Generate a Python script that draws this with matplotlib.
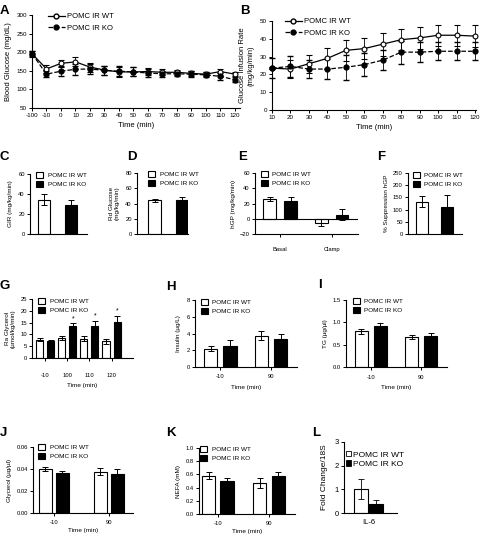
import matplotlib
matplotlib.use('Agg')
import matplotlib.pyplot as plt
import numpy as np
from matplotlib.patches import Patch
from matplotlib.lines import Line2D

plt.rcParams['font.family'] = ['Liberation Sans', 'DejaVu Sans']

# ---- data ----
# A: blood glucose
a_time = ['-100', '-10', '0', '10', '20', '30', '40', '50', '60', '70', '80', '90', '100', '110', '120']
a_wt = [196, 155, 170, 174, 160, 152, 147, 147, 148, 146, 146, 143, 141, 148, 141]
a_wt_err = [8, 10, 10, 12, 12, 12, 13, 12, 10, 8, 7, 7, 6, 8, 5]
a_ko = [196, 141, 149, 154, 155, 151, 149, 147, 144, 142, 142, 141, 139, 135, 126]
a_ko_err = [7, 8, 14, 14, 13, 12, 13, 12, 10, 8, 7, 8, 7, 10, 7]

# B: glucose infusion rate
b_time = [10, 20, 30, 40, 50, 60, 70, 80, 90, 100, 110, 120]
b_wt = [23.5, 23, 26, 29, 33.5, 34.5, 37, 39.5, 40.5, 42, 42, 41.5]
b_wt_err = [0.5, 5, 5, 6, 6, 6, 6.5, 6, 6, 6, 6, 6]
b_ko = [23.5, 24.5, 23, 23, 24, 25.5, 28, 32.5, 32.5, 33, 33, 33]
b_ko_err = [5.5, 6, 5, 5.5, 7, 6.5, 5.5, 6.5, 5.5, 5, 5, 5]

# C, D, F: single comparisons (WT, KO)
c_vals = [34.5, 29.5]
c_err = [5.5, 4.5]
d_vals = [44, 45]
d_err = [2, 3]
f_vals = [132, 112]
f_err = [22, 48]

# E: hGP
e_groups = ['Basal', 'Clamp']
e_wt = [25.5, -5]
e_wt_err = [2.5, 5]
e_ko = [23.5, 5.5]
e_ko_err = [5.5, 7.5]

# G: Ra glycerol
g_groups = ['-10', '100', '110', '120']
g_wt = [7.8, 8.5, 8.2, 7.0]
g_wt_err = [0.6, 0.8, 1.0, 1.0]
g_ko = [7.3, 13.5, 13.5, 15.3]
g_ko_err = [0.5, 1.2, 2.2, 2.7]

two_times = ['-10', '90']
h_wt, h_wt_err = [2.2, 3.75], [0.3, 0.5]
h_ko, h_ko_err = [2.5, 3.3], [0.7, 0.65]
i_wt, i_wt_err = [0.80, 0.67], [0.05, 0.05]
i_ko, i_ko_err = [0.91, 0.70], [0.08, 0.06]
j_wt, j_wt_err = [0.040, 0.0375], [0.002, 0.003]
j_ko, j_ko_err = [0.036, 0.0355], [0.002, 0.0045]
k_wt, k_wt_err = [0.58, 0.47], [0.05, 0.08]
k_ko, k_ko_err = [0.50, 0.57], [0.04, 0.07]

l_vals = [1.0, 0.40]
l_err = [0.42, 0.15]

W, H = 481, 536
fig = plt.figure(figsize=(W / 100, H / 100), dpi=100)

TICK = 4.2    # GraphPad-style tick labels
LAB = 4.6     # GraphPad-style axis labels
LEG = 4.6


def add_ax(l, t, r, b):
    return fig.add_axes([l / W, 1 - b / H, (r - l) / W, (b - t) / H])


def style(ax, fs=TICK):
    for s in ['top', 'right']:
        ax.spines[s].set_visible(False)
    for s in ['left', 'bottom']:
        ax.spines[s].set_linewidth(0.8)
    ax.tick_params(labelsize=fs, width=0.7, length=2.2, pad=1.5)


def letter(x, y, s):
    fig.text(x / W, 1 - y / H, s, fontsize=9.5, fontweight='bold', ha='left', va='top')


def bar_legend(ax, x, y, fs=LEG):
    handles = [Patch(facecolor='white', edgecolor='black', lw=0.8),
               Patch(facecolor='black', edgecolor='black', lw=0.8)]
    ax.legend(handles, ['POMC IR WT', 'POMC IR KO'], loc='upper left',
              bbox_to_anchor=(x / W, 1 - y / H), bbox_transform=fig.transFigure,
              frameon=False, fontsize=fs, handlelength=1.1, handleheight=1.0,
              handletextpad=0.7, labelspacing=0.5, borderpad=0, borderaxespad=0)


ekw = dict(elinewidth=0.7, capsize=2.2, capthick=0.7, ecolor='black')


def grouped(ax, groups, wt, wte, ko, koe, off, w):
    x = np.arange(len(groups))
    ax.bar(x - off, wt, w, yerr=wte, color='white', edgecolor='black', lw=0.8, error_kw=ekw)
    ax.bar(x + off, ko, w, yerr=koe, color='black', edgecolor='black', lw=0.8, error_kw=ekw)
    ax.set_xticks(x, groups)


def pair(ax, vals, errs, w):
    ax.bar([0, 1], vals, w, yerr=errs, color=['white', 'black'], edgecolor='black',
           lw=0.8, error_kw=ekw)
    ax.set_xticks([])


def time_label(ax, pad=2):
    ax.set_xlabel('Time (min)', fontsize=LAB, labelpad=pad)


line_handles = [Line2D([], [], color='black', lw=0.9, marker='o', ms=3.5, mfc='white'),
                Line2D([], [], color='black', lw=0.9, ls='--', marker='o', ms=3.5, mfc='black')]

# ---- A ----
ax = add_ax(32, 15, 240, 108)
style(ax, 4.5)
xa = np.arange(len(a_time))
ax.errorbar(xa, a_wt, yerr=a_wt_err, color='black', lw=0.9, marker='o', ms=3.5,
            mfc='white', mec='black', mew=0.8, capsize=2, elinewidth=0.6, clip_on=False, zorder=3)
ax.errorbar(xa, a_ko, yerr=a_ko_err, color='black', lw=0.9, ls='--', marker='o', ms=3.5,
            mfc='black', capsize=2, elinewidth=0.6, clip_on=False, zorder=3)
ax.set_xlim(0, 14.35)
ax.set_ylim(50, 300)
ax.set_yticks(range(50, 301, 50))
ax.set_xticks(xa, a_time)
ax.set_xlabel('Time (min)', fontsize=5.5, labelpad=3)
ax.set_ylabel('Blood Glucose (mg/dL)', fontsize=5.5, labelpad=3)
ax.legend(line_handles, ['POMC IR WT', 'POMC IR KO'], loc='upper left',
          bbox_to_anchor=(48 / W, 1 - 13 / H), bbox_transform=fig.transFigure,
          frameon=False, fontsize=5.5, handlelength=2.2, handletextpad=0.3,
          labelspacing=0.55, borderpad=0, borderaxespad=0)
letter(0, 5, 'A')

# ---- B ----
ax = add_ax(272, 21, 476, 110)
style(ax, 4.5)
ax.errorbar(b_time, b_wt, yerr=b_wt_err, color='black', lw=0.9, marker='o', ms=3.5,
            mfc='white', mec='black', mew=0.8, capsize=2, elinewidth=0.6, clip_on=False, zorder=3)
ax.errorbar(b_time, b_ko, yerr=b_ko_err, color='black', lw=0.9, ls='--', marker='o', ms=3.5,
            mfc='black', capsize=2, elinewidth=0.6, clip_on=False, zorder=3)
ax.set_xlim(10, 120.5)
ax.set_ylim(0, 50)
ax.set_xticks(b_time)
ax.set_yticks(range(0, 51, 10))
ax.set_xlabel('Time (min)', fontsize=5.5, labelpad=3)
ax.set_ylabel('Glucose Infusion Rate\n(mg/kg/min)', fontsize=5.5, labelpad=4)
ax.legend(line_handles, ['POMC IR WT', 'POMC IR KO'], loc='upper left',
          bbox_to_anchor=(285 / W, 1 - 18 / H), bbox_transform=fig.transFigure,
          frameon=False, fontsize=5.5, handlelength=2.2, handletextpad=0.3,
          labelspacing=0.55, borderpad=0, borderaxespad=0)
letter(240, 5, 'B')

# ---- C ----
ax = add_ax(30, 174, 87, 234)
style(ax)
pair(ax, c_vals, c_err, 0.44)
ax.set_xlim(-0.52, 1.59)
ax.set_ylim(0, 60)
ax.set_yticks(range(0, 61, 20))
ax.set_ylabel('GIR (mg/kg/min)', fontsize=LAB, labelpad=4)
bar_legend(ax, 36, 172)
letter(0, 151, 'C')

# ---- D ----
ax = add_ax(137, 173, 188, 234)
style(ax)
pair(ax, d_vals, d_err, 0.46)
ax.set_xlim(-0.64, 1.2)
ax.set_ylim(0, 80)
ax.set_yticks(range(0, 81, 20))
ax.set_ylabel('Rd Glucose\n(mg/kg/min)', fontsize=LAB, labelpad=4)
bar_legend(ax, 148, 171)
letter(127, 151, 'D')

# ---- E ----
ax = add_ax(255, 173, 358, 234)
style(ax)
grouped(ax, e_groups, e_wt, e_wt_err, e_ko, e_ko_err, 0.2, 0.25)
ax.axhline(0, color='black', lw=0.8)
ax.set_xlim(-0.49, 1.51)
ax.set_ylim(-20, 60)
ax.set_yticks(range(-20, 61, 20))
ax.tick_params(axis='x', pad=7)
ax.set_ylabel('hGP (mg/kg/min)', fontsize=LAB, labelpad=3)
bar_legend(ax, 261, 171)
letter(238, 151, 'E')

# ---- F ----
ax = add_ax(408, 173, 462, 234)
style(ax)
pair(ax, f_vals, f_err, 0.5)
ax.set_xlim(-0.55, 1.59)
ax.set_ylim(0, 250)
ax.set_yticks(range(0, 251, 50))
ax.set_ylabel('% Suppression hGP', fontsize=LAB, labelpad=3)
bar_legend(ax, 413, 172)
letter(377, 151, 'F')

# ---- G ----
ax = add_ax(32, 299, 133, 358)
style(ax)
grouped(ax, g_groups, g_wt, g_wt_err, g_ko, g_ko_err, 0.25, 0.32)
for i in range(1, 4):
    ax.text(i + 0.25, g_ko[i] + g_ko_err[i] + 0.5, '*', ha='center', va='bottom', fontsize=5)
ax.set_xlim(-0.59, 3.97)
ax.set_ylim(0, 25)
ax.set_yticks(range(0, 26, 5))
ax.tick_params(axis='x', pad=8.5)
time_label(ax, 4)
ax.set_ylabel('Ra Glycerol\n(\u00b5mol/kg/min)', fontsize=LAB, labelpad=3)
bar_legend(ax, 38, 298)
letter(0, 280, 'G')

# ---- H ----
ax = add_ax(195, 300, 297, 367)
style(ax)
grouped(ax, two_times, h_wt, h_wt_err, h_ko, h_ko_err, 0.19, 0.26)
ax.set_xlim(-0.5, 1.51)
ax.set_ylim(0, 8)
ax.set_yticks(range(0, 9, 2))
ax.tick_params(axis='x', pad=3)
time_label(ax, 4)
ax.set_ylabel('Insulin (\u00b5g/L)', fontsize=LAB, labelpad=4)
bar_legend(ax, 201, 299)
letter(166, 281, 'H')

# ---- I ----
ax = add_ax(346, 300, 447, 367)
style(ax)
grouped(ax, two_times, i_wt, i_wt_err, i_ko, i_ko_err, 0.19, 0.26)
ax.set_xlim(-0.49, 1.51)
ax.set_ylim(0, 1.5)
ax.set_yticks([0, 0.5, 1.0, 1.5], ['0.0', '0.5', '1.0', '1.5'])
ax.tick_params(axis='x', pad=3.5)
time_label(ax, 4)
ax.set_ylabel('TG (\u00b5g/\u00b5l)', fontsize=LAB, labelpad=3)
bar_legend(ax, 353, 298)
letter(318, 279, 'I')

# ---- J ----
ax = add_ax(33, 447, 133, 513)
style(ax)
grouped(ax, two_times, j_wt, j_wt_err, j_ko, j_ko_err, 0.155, 0.24)
ax.set_xlim(-0.38, 1.44)
ax.set_ylim(0, 0.06)
ax.set_yticks([0, 0.02, 0.04, 0.06], ['0.00', '0.02', '0.04', '0.06'])
ax.tick_params(axis='x', pad=3)
time_label(ax)
ax.set_ylabel('Glycerol (\u00b5g/\u00b5l)', fontsize=LAB, labelpad=3)
bar_legend(ax, 38, 444)
letter(0, 427, 'J')

# ---- K ----
ax = add_ax(199, 448, 295, 514)
style(ax)
grouped(ax, two_times, k_wt, k_wt_err, k_ko, k_ko_err, 0.18, 0.26)
ax.set_xlim(-0.37, 1.51)
ax.set_ylim(0, 1.0)
ax.set_yticks(np.arange(0, 1.01, 0.2), ['0.0', '0.2', '0.4', '0.6', '0.8', '1.0'])
ax.tick_params(axis='x', pad=3)
time_label(ax)
ax.set_ylabel('NEFA (mM)', fontsize=LAB, labelpad=3)
bar_legend(ax, 200, 446)
letter(166, 427, 'K')

# ---- L ----
ax = add_ax(344, 442, 397, 513)
style(ax, 5.5)
ax.bar([-0.14, 0.14], l_vals, 0.26, yerr=l_err, color=['white', 'black'],
       edgecolor='black', lw=0.8, error_kw=dict(elinewidth=0.6, capsize=2, capthick=0.6, ecolor='black'))
ax.set_xlim(-0.46, 0.54)
ax.set_ylim(0, 3)
ax.set_yticks([0, 1, 2, 3])
ax.set_xticks([0], ['IL-6'])
ax.tick_params(axis='x', length=0, labelsize=5.5, pad=4)
ax.set_ylabel('Fold Change/18S', fontsize=6, labelpad=5)
ax.legend([Patch(facecolor='white', edgecolor='black', lw=0.6),
           Patch(facecolor='black', edgecolor='black', lw=0.6)],
          ['POMC IR WT', 'POMC IR KO'], loc='upper left',
          bbox_to_anchor=(346 / W, 1 - 451 / H), bbox_transform=fig.transFigure,
          frameon=False, fontsize=6, handlelength=0.6, handleheight=0.6,
          handletextpad=0.2, labelspacing=0.2, borderpad=0, borderaxespad=0)
letter(312, 427, 'L')

fig.savefig('out.png', dpi=100)
